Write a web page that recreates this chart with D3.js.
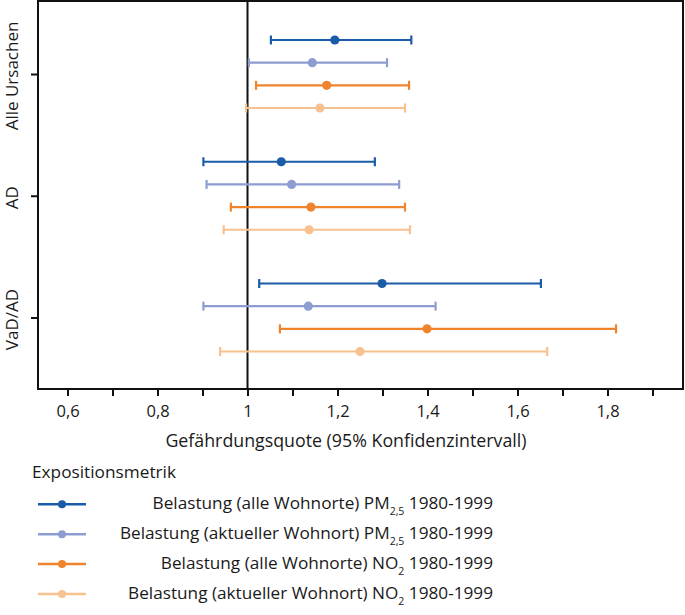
<!DOCTYPE html>
<html><head><meta charset="utf-8">
<script src="https://cdn.jsdelivr.net/npm/d3@7"></script>
<style>
html,body{margin:0;padding:0;background:#fff;}
text{font-family:"Open Sans","Noto Sans",sans-serif;fill:#1a1a1a;}
</style></head>
<body>
<svg id="chart" width="685" height="615"></svg>
<script>
const categories = ["Alle Ursachen", "AD", "VaD/AD"];
const seriesNames = [
  "Belastung (alle Wohnorte) PM|2,5| 1980-1999",
  "Belastung (aktueller Wohnort) PM|2,5| 1980-1999",
  "Belastung (alle Wohnorte) NO|2| 1980-1999",
  "Belastung (aktueller Wohnort) NO|2| 1980-1999"
];
const seriesColors = ["#1b5ca8", "#8d9dd1", "#f0842c", "#f7c190"];
const estimate = [
  [1.194, 1.075, 1.299],
  [1.144, 1.098, 1.135],
  [1.176, 1.141, 1.399],
  [1.161, 1.137, 1.250]
];
const lower = [
  [1.052, 0.902, 1.026],
  [1.003, 0.909, 0.902],
  [1.019, 0.963, 1.072],
  [0.997, 0.947, 0.939]
];
const upper = [
  [1.364, 1.283, 1.652],
  [1.310, 1.337, 1.418],
  [1.359, 1.350, 1.819],
  [1.350, 1.361, 1.666]
];
const xTickValues = [0.6, 0.7, 0.8, 0.9, 1.0, 1.1, 1.2, 1.3, 1.4, 1.5, 1.6, 1.7, 1.8, 1.9];
const xLabeled = [0.6, 0.8, 1.0, 1.2, 1.4, 1.6, 1.8];
const xTitle = "Gefährdungsquote (95% Konfidenzintervall)";
const legendTitle = "Expositionsmetrik";
const referenceValue = 1;

const svg = d3.select("#chart");
const pLeft = 38, pRight = 683, pTop = 1, pBottom = 389;

const x = d3.scaleLinear().domain([0.5344, 1.9678]).range([pLeft, pRight]);
const yCat = d3.scalePoint().domain(categories).range([74, 317.5]);
const yOff = d3.scalePoint().domain(d3.range(seriesNames.length)).range([-34, 34]);

const loc = d3.formatLocale({decimal: ",", thousands: ".", grouping: [3], currency: ["", "€"]});
const fmt = loc.format("~g");

// x axis
const xAxis = d3.axisBottom(x)
  .tickValues(xTickValues)
  .tickSize(7)
  .tickPadding(6)
  .tickFormat(d => xLabeled.some(v => Math.abs(v - d) < 1e-9) ? fmt(d) : "");
const gx = svg.append("g").attr("transform", `translate(0,${pBottom})`).call(xAxis);
gx.select(".domain").remove();
gx.selectAll(".tick line").attr("stroke", "#111").attr("stroke-width", 2);
gx.selectAll(".tick text").attr("font-size", 16.5).attr("fill", "#1a1a1a").attr("dy", "0.92em");

// y axis
const yAxis = d3.axisLeft(yCat).tickSize(7).tickFormat("");
const gy = svg.append("g").attr("transform", `translate(${pLeft},0)`).call(yAxis);
gy.select(".domain").remove();
gy.selectAll(".tick line").attr("stroke", "#111").attr("stroke-width", 2);
svg.append("g").selectAll("text").data(categories).join("text")
  .attr("transform", d => `translate(18,${yCat(d) + 2}) rotate(-90)`)
  .attr("text-anchor", "middle")
  .attr("font-size", 17)
  .text(d => d);

// frame
svg.append("rect").attr("x", pLeft).attr("y", pTop).attr("width", pRight - pLeft).attr("height", pBottom - pTop)
  .attr("fill", "none").attr("stroke", "#111").attr("stroke-width", 2);

// reference line
svg.append("line").attr("x1", x(referenceValue)).attr("x2", x(referenceValue))
  .attr("y1", pTop).attr("y2", pBottom).attr("stroke", "#111").attr("stroke-width", 2);

// error bars
const rows = [];
seriesNames.forEach((s, si) => categories.forEach((c, ci) => {
  rows.push({si, c, est: estimate[si][ci], lo: lower[si][ci], hi: upper[si][ci]});
}));
const g = svg.append("g");
const rowY = d => yCat(d.c) + yOff(d.si);
g.selectAll("line.bar").data(rows).join("line").attr("class", "bar")
  .attr("x1", d => x(d.lo)).attr("x2", d => x(d.hi))
  .attr("y1", rowY).attr("y2", rowY)
  .attr("stroke", d => seriesColors[d.si]).attr("stroke-width", 2.2);
g.selectAll("line.capl").data(rows).join("line").attr("class", "capl")
  .attr("x1", d => x(d.lo)).attr("x2", d => x(d.lo))
  .attr("y1", d => rowY(d) - 4.5).attr("y2", d => rowY(d) + 4.5)
  .attr("stroke", d => seriesColors[d.si]).attr("stroke-width", 2.2);
g.selectAll("line.capr").data(rows).join("line").attr("class", "capr")
  .attr("x1", d => x(d.hi)).attr("x2", d => x(d.hi))
  .attr("y1", d => rowY(d) - 4.5).attr("y2", d => rowY(d) + 4.5)
  .attr("stroke", d => seriesColors[d.si]).attr("stroke-width", 2.2);
g.selectAll("circle").data(rows).join("circle")
  .attr("cx", d => x(d.est)).attr("cy", rowY).attr("r", 4.6)
  .attr("fill", d => seriesColors[d.si]);

// x title
svg.append("text").attr("x", 346).attr("y", 447).attr("text-anchor", "middle")
  .attr("font-size", 17.8).text(xTitle);

// legend
svg.append("text").attr("x", 32).attr("y", 478).attr("font-size", 17)
  .attr("textLength", 144).attr("lengthAdjust", "spacingAndGlyphs").text(legendTitle);
const legY = d3.scalePoint().domain(d3.range(seriesNames.length)).range([504.3, 594]);
const lg = svg.append("g").selectAll("g").data(seriesNames).join("g")
  .attr("transform", (d, i) => `translate(0,${legY(i)})`);
lg.append("line").attr("x1", 38).attr("x2", 86).attr("y1", 0).attr("y2", 0)
  .attr("stroke", (d, i) => seriesColors[i]).attr("stroke-width", 2.5);
lg.append("circle").attr("cx", 62).attr("cy", 0).attr("r", 4).attr("fill", (d, i) => seriesColors[i]);
lg.each(function(d) {
  const parts = d.split("|");
  const t = d3.select(this).append("text").attr("x", 493).attr("y", 4.5).attr("text-anchor", "end").attr("font-size", 17.2);
  t.append("tspan").text(parts[0]);
  t.append("tspan").attr("font-size", 10.5).attr("dy", 6).text(parts[1]);
  t.append("tspan").attr("dy", -6).text(parts[2]);
});
</script>
</body></html>
